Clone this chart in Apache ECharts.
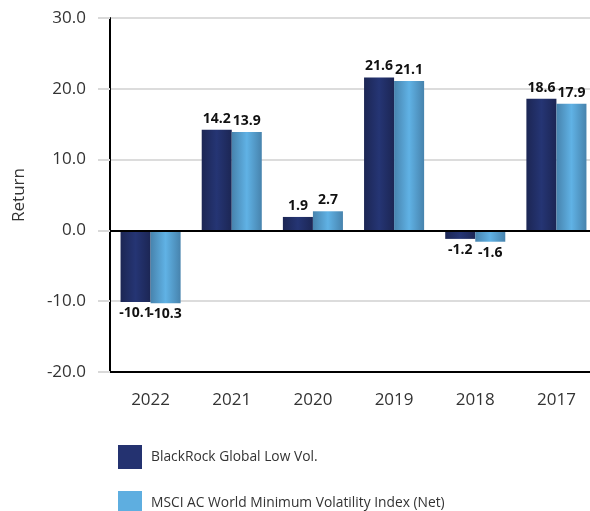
<!DOCTYPE html>
<html>
<head>
<meta charset="utf-8">
<script src="https://cdn.jsdelivr.net/npm/echarts@6/dist/echarts.min.js"></script>
<style>html,body{margin:0;padding:0;background:#fff;overflow:hidden;}#c{width:600px;height:511px;}</style>
</head>
<body>
<div id="c"></div>
<script>
var categories = ['2022', '2021', '2020', '2019', '2018', '2017'];
var seriesNames = ['BlackRock Global Low Vol.', 'MSCI AC World Minimum Volatility Index (Net)'];
var fundValues = [-10.1, 14.2, 1.9, 21.6, -1.2, 18.6];
var indexValues = [-10.3, 13.9, 2.7, 21.1, -1.6, 17.9];

var FONT = '"Open Sans", "Noto Sans", sans-serif';
var legendColors = ['#243270', '#5eaee0'];

function grad(edge, mid) {
  return new echarts.graphic.LinearGradient(0, 0, 1, 0, [
    {offset: 0, color: edge}, {offset: 0.5, color: mid}, {offset: 1, color: edge}
  ]);
}
function toData(arr) {
  return arr.map(function (v) {
    return {value: v, label: {position: v < 0 ? 'bottom' : 'top'}};
  });
}
var labelStyle = {
  show: true, fontFamily: FONT, fontWeight: 'bold', fontSize: 14, color: '#111', distance: 4,
  formatter: function (p) { return p.value.toFixed(1); }
};
function legendFor(i, top) {
  return {
    orient: 'vertical', left: 113, top: top, itemWidth: 24, itemHeight: 24, icon: 'rect',
    textStyle: {fontFamily: FONT, fontSize: 13.8, color: '#333', padding: [0, 0, 0, 4]},
    data: [{name: seriesNames[i], itemStyle: {color: legendColors[i]}}]
  };
}

var chart = echarts.init(document.getElementById('c'), null, {renderer: 'canvas'});
chart.setOption({
  animation: false,
  backgroundColor: '#fff',
  grid: {left: 110, top: 18, height: 354, width: 487},
  legend: [legendFor(0, 440), legendFor(1, 486)],
  xAxis: {
    type: 'category', data: categories, position: 'bottom',
    axisLine: {onZero: false, lineStyle: {color: '#000', width: 2}},
    axisTick: {alignWithLabel: true, length: 10, lineStyle: {color: '#d9d9d9', width: 2}},
    axisLabel: {fontFamily: FONT, fontSize: 17, color: '#333', margin: 20}
  },
  yAxis: {
    type: 'value', min: -20, max: 30, interval: 10,
    name: 'Return', nameLocation: 'middle', nameGap: 82,
    nameTextStyle: {fontFamily: FONT, fontSize: 17, color: '#333'},
    axisLine: {show: true, lineStyle: {color: '#000', width: 2}},
    axisTick: {show: true, length: 12, lineStyle: {color: '#d9d9d9', width: 2}},
    axisLabel: {fontFamily: FONT, fontSize: 17, color: '#333', margin: 24,
      formatter: function (v) { return v.toFixed(1); }},
    splitLine: {lineStyle: {color: '#dcdcdc', width: 2}}
  },
  series: [
    {
      name: seriesNames[0], type: 'bar', data: toData(fundValues),
      barGap: '0%', barCategoryGap: '26%',
      itemStyle: {color: grad('#1c2654', '#253574')},
      label: labelStyle,
      markLine: {
        silent: true, symbol: 'none', label: {show: false},
        lineStyle: {color: '#000', width: 2, type: 'solid'},
        data: [{yAxis: 0}]
      }
    },
    {
      name: seriesNames[1], type: 'bar', data: toData(indexValues),
      itemStyle: {color: grad('#4783ad', '#60b2e5')},
      label: labelStyle
    }
  ]
});
</script>
</body>
</html>
